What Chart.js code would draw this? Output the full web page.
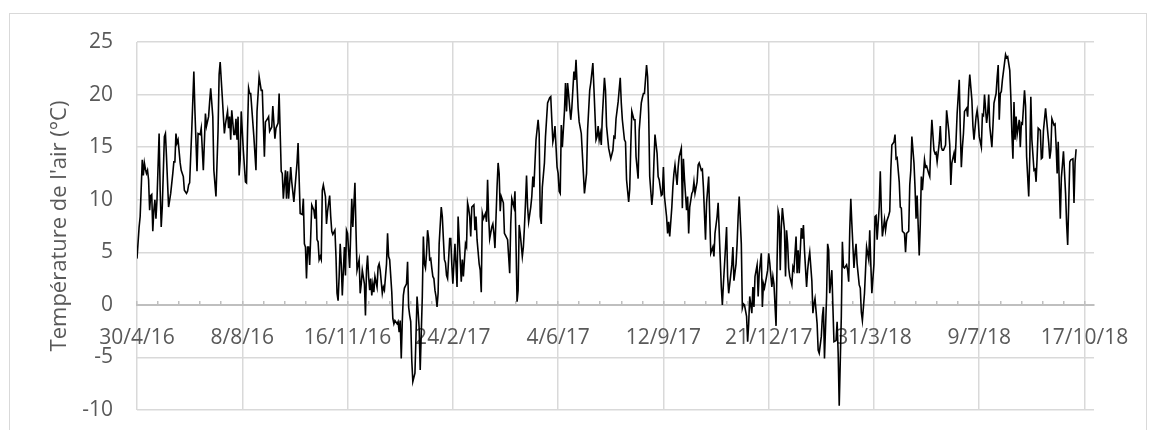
<!DOCTYPE html>
<html>
<head>
<meta charset="utf-8">
<script src="https://cdn.jsdelivr.net/npm/chart.js@4.4.1/dist/chart.umd.min.js"></script>
<style>
    html, body { margin: 0; padding: 0; background: #fff; }
    #wrap { position: relative; width: 1156px; height: 430px; overflow: hidden; }
    #frame { position: absolute; left: 9px; top: 13px; width: 1136px; height: 440px; border: 1px solid #d9d9d9; }
    canvas { position: absolute; left: 0; top: 0; }
</style>
</head>
<body>
<div id="wrap">
    <div id="frame"></div>
    <canvas id="air_temperature" width="1156" height="430"></canvas>
</div>
<script>
// days since 30/4/16
var days = [0,2,3,5,6,7,8,9,10,11,12,13,14,15,16,17,18,19,21,22,23,24,26,27,28,30,32,34,35,36,37,38,39,41,42,44,45,47,48,49,50,52,54,55,57,58,60,61,63,65,66,68,69,70,72,73,75,77,78,79,81,83,84,86,87,88,89,90,92,93,94,95,96,97,98,99,101,103,104,105,106,107,108,111,113,114,116,118,119,121,122,124,125,126,128,129,131,132,134,135,137,138,139,141,142,143,144,146,147,149,152,153,155,
    157,158,159,160,161,162,163,164,165,166,168,169,170,171,172,173,174,175,176,177,179,180,181,183,184,185,186,188,189,190,191,192,193,194,195,197,198,199,200,202,203,204,205,207,208,209,211,212,213,214,216,217,218,219,220,221,222,223,224,225,226,228,229,230,231,233,234,235,237,238,239,240,242,243,244,245,247,248,249,250,251,252,253,254,256,257,258,259,260,261,262,264,265,266,267,268,269,271,272,273,274,275,276,277,278,279,280,281,282,283,284,285,286,287,289,290,291,292,293,294,295,297,298,299,300,302,304,305,
    308,309,310,312,313,314,315,316,317,318,320,321,322,323,325,326,327,328,329,331,332,333,334,335,337,338,339,340,342,343,344,345,346,348,349,350,352,353,354,355,356,358,359,360,361,362,363,364,366,367,368,369,370,371,372,374,375,376,377,378,379,381,382,383,384,385,387,388,389,390,392,393,394,395,396,397,399,400,401,402,403,404,406,407,408,409,410,412,413,415,416,417,419,420,422,424,425,427,428,430,431,433,434,436,437,438,439,440,441,442,444,445,446,448,449,450,452,453,454,455,456,457,
    459,460,461,463,464,465,467,468,469,470,472,473,474,476,477,479,480,481,482,484,485,486,487,489,490,491,492,494,495,496,498,499,500,501,503,504,505,506,508,509,510,511,513,514,515,517,518,519,520,522,523,524,525,527,528,529,530,532,533,534,536,537,538,540,541,543,544,545,547,548,549,551,552,554,555,556,557,559,560,561,562,563,565,566,567,569,570,571,572,574,575,576,577,579,580,581,582,584,585,586,587,589,590,591,593,594,595,596,598,599,600,601,603,604,605,607,608,609,610,
    611,612,613,615,616,617,618,619,620,622,623,624,626,627,628,629,631,632,633,634,636,637,638,639,641,642,643,644,646,647,648,650,651,652,653,655,656,657,658,660,661,662,664,665,666,667,669,670,671,672,674,675,676,677,678,679,681,682,683,684,686,687,688,689,691,692,693,695,696,697,698,700,701,702,703,705,706,707,708,710,711,712,714,715,716,717,719,720,721,722,724,725,726,727,729,730,731,733,734,735,736,738,739,740,741,743,744,745,746,748,749,750,752,753,754,755,757,758,759,760,762,763,
    764,765,766,768,769,771,772,773,774,776,777,778,779,781,782,783,784,785,786,788,789,790,791,793,794,795,797,798,799,800,802,803,804,805,807,808,809,810,812,813,814,816,817,818,819,820,821,822,824,825,826,827,829,830,831,832,833,834,835,836,838,839,840,841,843,844,845,847,848,849,850,852,853,854,855,856,858,859,860,861,863,864,866,867,868,869,871,872,873,874,875,876,877,878,879,880,882,883,884,885,886,887,889,890,891,892];

// daily air temperature, °C
var temps = [4.4,7.4,8.4,13.8,12.3,13.5,12.9,12.5,12.8,11.9,9.0,10.4,10.5,7.0,9.0,10.0,8.2,10.0,16.3,10.9,7.4,9.3,16.0,16.3,14.1,9.3,10.6,12.5,13.6,13.6,16.3,15.4,15.7,13.5,12.8,12.2,10.9,10.6,10.8,11.4,11.6,16.6,22.2,18.5,12.7,16.3,16.2,16.8,12.8,18.2,17.0,17.9,19.3,20.6,17.9,12.8,10.3,16.6,21.9,23.1,19.8,16.3,17.2,18.4,16.8,17.9,15.7,18.5,16.2,16.2,17.7,15.7,17.9,12.3,13.8,18.4,14.7,11.7,11.6,16.6,20.6,20.1,20.1,16.0,12.8,18.4,21.7,20.4,20.4,14.1,17.4,17.7,17.9,16.5,16.9,18.9,15.8,16.8,17.3,20.1,12.7,12.5,10.1,12.8,10.1,12.7,10.1,13.1,11.7,9.8,13.5,15.4,8.7,
    8.6,10.1,5.8,5.5,2.5,5.5,5.5,3.8,6.5,9.5,9.0,8.2,10.0,6.2,6.0,4.3,4.6,4.3,10.9,11.4,10.3,7.7,8.9,10.4,8.4,7.0,6.7,7.1,4.6,1.1,0.4,2.7,5.8,3.9,0.9,5.5,2.8,7.1,6.8,3.5,6.8,10.1,7.4,11.6,7.1,3.3,4.3,1.1,2.0,3.3,2.0,-1.0,3.3,4.7,2.7,1.4,2.5,0.9,2.0,1.2,2.7,1.7,3.6,3.9,3.3,1.1,1.7,1.4,3.9,6.8,4.6,4.3,1.2,-1.3,-1.8,-1.5,-1.8,-1.6,-2.6,-1.5,-5.1,-1.5,0.9,1.6,2.0,4.1,-0.2,-1.0,-1.6,-5.3,-7.3,-6.5,-3.0,0.8,-0.6,-2.2,-6.2,0.8,6.5,3.9,3.5,4.9,7.1,6.3,4.3,4.4,3.5,2.7,2.5,1.4,0.8,-0.2,1.1,5.8,9.3,8.4,6.3,4.3,4.0,2.8,2.5,6.3,6.3,3.9,2.0,5.8,1.7,8.4,
    2.2,4.3,2.7,5.8,5.5,9.7,9.2,8.4,6.5,9.3,9.5,7.1,8.4,6.2,3.9,3.3,1.2,8.7,8.2,8.7,7.9,11.9,8.4,6.3,7.4,7.7,6.8,5.4,11.2,13.5,12.5,8.9,10.3,9.7,6.8,6.6,6.2,4.6,3.0,7.7,10.1,9.3,10.8,5.8,0.3,1.4,7.6,6.8,4.6,5.5,7.4,9.7,12.3,9.3,7.9,9.3,10.3,12.2,11.2,13.5,15.7,17.6,16.3,8.4,7.7,11.2,13.5,16.0,17.6,19.2,19.7,19.8,17.6,15.5,16.0,17.0,13.1,12.5,10.8,10.6,17.1,15.0,18.4,21.1,18.4,21.1,20.0,17.6,18.7,22.2,21.4,23.3,18.7,17.4,16.3,12.5,10.6,12.5,16.6,20.4,21.1,23.0,20.6,15.7,16.0,17.0,15.7,16.3,15.2,17.9,21.6,20.4,17.0,14.9,14.4,13.9,14.7,16.0,15.9,17.7,18.5,19.3,
    21.6,19.2,17.6,15.7,15.5,11.9,9.8,11.0,15.0,18.4,17.6,17.6,14.1,12.0,16.6,19.2,19.7,20.1,20.1,22.8,21.7,18.2,12.2,9.5,10.6,13.6,16.2,14.4,12.2,11.9,10.4,10.5,13.1,10.3,8.4,6.8,7.9,6.5,9.3,11.2,12.5,13.3,11.4,13.1,14.1,14.9,9.2,13.9,12.0,9.0,10.3,6.8,9.3,10.6,10.8,11.7,10.6,11.7,13.3,13.5,12.8,12.9,11.2,6.2,9.7,12.2,8.4,4.9,5.5,4.6,6.8,8.4,9.7,4.3,1.7,0.0,2.0,5.5,7.4,2.7,1.1,2.0,3.8,5.5,2.3,3.9,5.8,8.4,10.3,5.8,-0.3,0.1,0.0,-1.1,-3.5,-1.8,0.8,-0.8,1.7,-0.2,2.7,3.8,0.8,3.0,4.9,-0.2,2.0,1.6,2.7,3.3,4.9,4.0,1.7,2.7,2.0,-2.0,4.3,8.9,8.4,
    3.3,7.4,9.2,7.1,2.7,7.1,5.8,3.5,2.7,1.9,3.6,3.3,6.5,3.0,5.2,3.0,7.3,6.3,7.6,5.2,1.7,3.3,4.3,5.0,2.3,-0.8,0.1,0.6,-1.8,-4.3,-4.6,-3.0,-1.1,-0.2,-5.1,0.8,5.8,5.2,1.1,3.3,-0.2,-3.5,-3.4,-1.6,-4.6,-9.6,-1.1,6.0,3.6,3.5,3.8,3.3,2.2,7.1,10.1,7.7,3.5,4.9,5.8,3.9,1.9,1.6,-0.7,-1.5,1.1,3.3,5.5,4.3,7.1,3.9,1.1,3.9,8.4,8.5,6.2,9.3,12.7,9.0,6.5,8.1,7.1,7.9,8.5,8.9,12.8,15.2,15.5,16.2,13.9,14.0,11.7,9.3,9.2,7.0,6.8,5.0,6.8,7.0,11.4,12.8,16.0,13.5,11.2,8.2,10.4,4.7,7.7,12.2,10.9,13.8,13.1,13.2,12.5,12.2,15.4,17.6,14.7,14.4,14.5,13.6,15.4,17.0,
    15.0,14.7,14.7,15.2,18.5,16.6,15.2,11.4,13.5,14.4,13.5,15.7,18.2,21.4,16.6,13.1,15.0,16.3,18.4,18.7,17.9,20.4,21.9,19.5,17.0,15.7,17.9,18.5,17.6,16.0,15.0,18.1,18.0,20.0,17.3,18.2,20.0,17.0,15.0,17.0,19.2,20.1,21.6,22.8,17.6,20.1,20.3,21.4,23.0,23.8,23.5,23.6,22.3,19.8,16.3,13.9,19.3,15.7,17.9,16.2,17.6,15.0,17.3,17.2,20.4,18.9,14.1,10.3,14.1,19.8,15.7,12.8,12.9,11.7,14.1,16.8,16.6,13.9,14.0,16.6,18.7,17.6,15.4,13.9,14.7,17.7,17.1,17.2,15.2,12.5,15.5,11.6,8.2,12.1,13.3,14.6,10.6,7.7,5.7,9.7,13.6,13.8,13.9,9.7,13.5,14.8];

var tickLabels = ['30/4/16', '8/8/16', '16/11/16', '24/2/17', '4/6/17', '12/9/17', '21/12/17', '31/3/18', '9/7/18', '17/10/18'];

var fontFamily = '"Open Sans", sans-serif';
var textColor = '#595959';

var points = days.map(function (d, i) { return {x: d, y: temps[i]}; });

var ctx = document.getElementById('air_temperature').getContext('2d');
var myChart = new Chart(ctx, {
    type: 'line',
    data: {
        datasets: [{
            data: points,
            borderColor: '#000000',
            borderWidth: 1.6,
            pointRadius: 0,
            tension: 0,
        }]
    },
    options: {
        responsive: false,
        animation: false,
        devicePixelRatio: 1,
        layout: {
            padding: {left: 0, right: 62, top: 42, bottom: 20}
        },
        scales: {
            x: {
                type: 'linear',
                position: {y: 0},
                min: 0,
                max: 909,
                afterBuildTicks: function (scale) {
                    var t = [];
                    for (var v = 0; v <= 900; v += 20) t.push({value: v});
                    scale.ticks = t;
                },
                ticks: {
                    autoSkip: false,
                    minRotation: 0,
                    maxRotation: 0,
                    padding: 26,
                    color: textColor,
                    font: {family: fontFamily, size: 21},
                    callback: function (value) {
                        return value % 100 === 0 ? tickLabels[value / 100] : '';
                    }
                },
                grid: {
                    lineWidth: 1.5,
                    color: function (c) {
                        return c.tick && c.tick.value % 100 === 0 ? '#d9d9d9' : 'rgba(0,0,0,0)';
                    },
                    tickColor: '#bfbfbf',
                    tickLength: -5,
                    tickWidth: 1.5,
                },
                border: {display: true, color: '#bfbfbf', width: 2}
            },
            y: {
                min: -10,
                max: 25,
                afterFit: function (scale) {
                    scale.width = 137;
                    scale.paddingTop = 0;
                    scale.paddingBottom = 0;
                },
                ticks: {
                    stepSize: 5,
                    padding: 24,
                    color: textColor,
                    font: {family: fontFamily, size: 21},
                },
                grid: {
                    color: '#d9d9d9',
                    lineWidth: 1.5,
                    drawTicks: false,
                },
                border: {display: false},
                title: {
                    display: true,
                    text: "Température de l'air (°C)",
                    color: textColor,
                    font: {family: fontFamily, size: 22},
                    padding: {top: 47, bottom: 0}
                }
            }
        },
        plugins: {
            legend: {display: false},
            tooltip: {enabled: false},
        }
    }
});
</script>
</body>
</html>
